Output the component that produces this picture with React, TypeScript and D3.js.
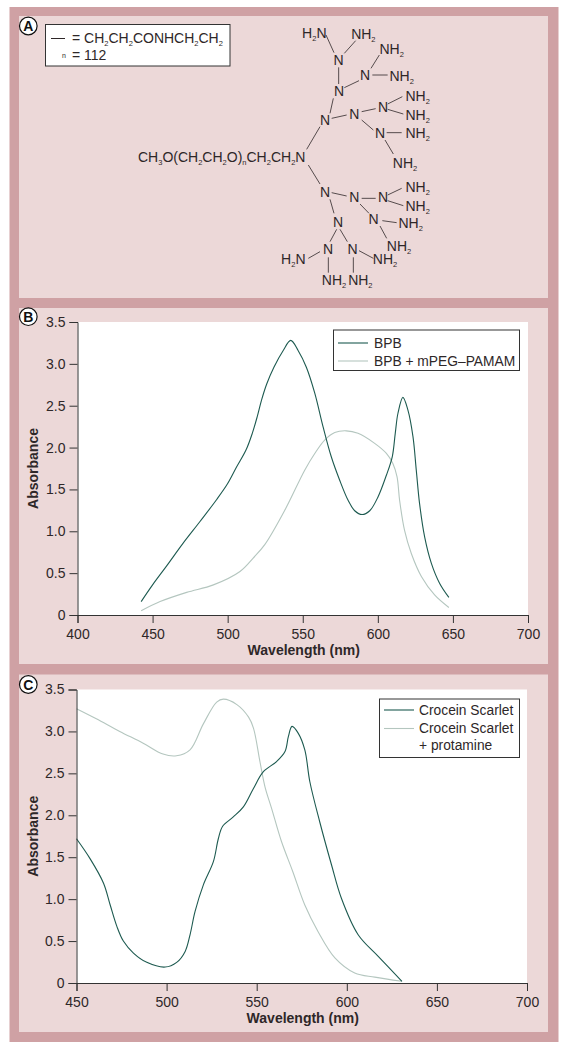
import { useEffect, useRef } from "react";
import * as d3 from "d3";

const FONT = "'Liberation Sans', Arial, sans-serif";
const INK = "#2e2728";
const DARK_LINE = "#1d5a50";
const LIGHT_LINE = "#b4c6bf";

// panel B
const bpbWavelength = [442.4, 450, 459.5, 470, 481.7, 492.7, 500, 506, 512.2, 516.4, 519.7, 522.6, 526, 530.8, 537, 542, 546.9, 552.4, 558, 563.5, 569, 574.6, 580.2, 584.6, 589.5, 594.6, 600.1, 605.7, 609.6, 611.6, 613.4, 616.7, 620, 623.4, 625.6, 627.8, 631.2, 635.6, 641.1, 647.3];
const bpbAbsorbance = [0.16, 0.36, 0.59, 0.85, 1.12, 1.38, 1.57, 1.77, 1.97, 2.17, 2.37, 2.57, 2.76, 2.96, 3.16, 3.28, 3.16, 2.96, 2.65, 2.25, 1.89, 1.61, 1.37, 1.245, 1.2, 1.245, 1.41, 1.67, 1.89, 2.17, 2.41, 2.6, 2.45, 2.13, 1.73, 1.33, 0.93, 0.62, 0.38, 0.21];
const mpegWavelength = [442.4, 455, 472.7, 490.5, 508.2, 517, 524.7, 538, 551.3, 558, 564.6, 571.3, 579, 586.8, 597.9, 605.7, 610, 612.8, 614.5, 617.8, 622.3, 629, 637.8, 647.3];
const mpegAbsorbance = [0.05, 0.16, 0.27, 0.36, 0.52, 0.68, 0.84, 1.25, 1.73, 1.93, 2.09, 2.18, 2.2, 2.17, 2.05, 1.93, 1.81, 1.65, 1.37, 1.01, 0.735, 0.46, 0.24, 0.09];

// panel C
const croceinWavelength = [450, 457.6, 465, 468.7, 472.4, 476, 481.6, 489, 499.2, 505.6, 510.3, 513, 515.8, 520.4, 526, 528.7, 531.1, 537, 542.6, 548.2, 553.7, 561, 565.7, 567.6, 569.6, 573, 576.7, 579.5, 585, 591.5, 597, 606.3, 617.3, 630.6];
const croceinAbsorbance = [1.72, 1.48, 1.19, 0.93, 0.675, 0.5, 0.357, 0.246, 0.19, 0.246, 0.377, 0.575, 0.853, 1.17, 1.45, 1.72, 1.87, 1.98, 2.1, 2.32, 2.52, 2.64, 2.76, 2.94, 3.06, 2.98, 2.78, 2.4, 1.92, 1.41, 1.01, 0.575, 0.32, 0.02];
const protamineWavelength = [450, 461, 474, 487, 498, 505.5, 513, 520.4, 527.8, 531.5, 539, 545.5, 548.2, 551.8, 554.6, 558.3, 563.7, 570, 576.7, 584, 593.4, 604.4, 615.5, 630.6];
const protamineAbsorbance = [3.27, 3.15, 3.0, 2.86, 2.73, 2.71, 2.78, 3.09, 3.35, 3.385, 3.32, 3.17, 3.04, 2.64, 2.34, 2.08, 1.69, 1.33, 0.93, 0.615, 0.3, 0.12, 0.07, 0.02];

const absorbanceTicks = [0, 0.5, 1, 1.5, 2, 2.5, 3, 3.5];
const ticksB = [400, 450, 500, 550, 600, 650, 700];
const ticksC = [450, 500, 550, 600, 650, 700];

// panel A: dendrimer drawing, in units of a 900x900 drawing grid
const atomLabels: [string, number, number][] = [
  ["H_2N", 148, 68], ["NH_2", 295, 73], ["N", 221, 150], ["NH_2", 380, 118], ["N", 300, 195],
  ["NH_2", 410, 198], ["N", 222, 243], ["NH_2", 458, 258], ["N", 354, 292], ["NH_2", 458, 314],
  ["N", 268, 311], ["N", 180, 330], ["N", 345, 368], ["NH_2", 458, 370], ["NH_2", 420, 458],
  ["N", 180, 545], ["N", 268, 562], ["N", 354, 562], ["NH_2", 458, 532], ["NH_2", 458, 587],
  ["N", 326, 627], ["NH_2", 437, 640], ["NH_2", 402, 707], ["N", 219, 636], ["N", 189, 718],
  ["N", 263, 718], ["H_2N", 85, 748], ["NH_2", 360, 748], ["NH_2", 207, 810], ["NH_2", 286, 810],
];
const bonds: [number, number, number, number][] = [
  [183, 75, 207, 128], [272, 92, 238, 130], [221, 172, 221, 222], [238, 233, 282, 212],
  [343, 135, 318, 175], [322, 195, 368, 195], [205, 265, 195, 310], [165, 350, 125, 418],
  [200, 325, 245, 315], [290, 305, 332, 296], [368, 282, 412, 260], [368, 298, 415, 312],
  [290, 330, 325, 360], [365, 368, 410, 368], [360, 390, 385, 432], [130, 465, 165, 522],
  [200, 548, 245, 558], [290, 565, 332, 565], [368, 555, 410, 535], [368, 572, 415, 587],
  [285, 582, 312, 610], [352, 632, 395, 638], [345, 648, 365, 685], [195, 568, 207, 610],
  [215, 658, 195, 695], [225, 658, 247, 695], [165, 725, 130, 745], [190, 742, 190, 788],
  [265, 742, 265, 788], [282, 722, 325, 745],
];

// "CH_2" -> CH with a subscript 2
function Chem({ label, ...rest }: any) {
  const parts = label.split(/_(.)/);
  return (
    <text fontFamily={FONT} fontSize={14} fill={INK} {...rest}>
      {parts.map((p: string, i: number) =>
        i % 2 === 1 ? (
          <tspan key={i} fontSize={7.5} dy={3}>{p}</tspan>
        ) : (
          <tspan key={i} dy={i > 0 ? -3 : 0}>{p}</tspan>
        )
      )}
    </text>
  );
}

function Badge({ y, letter }: { y: number; letter: string }) {
  return (
    <g>
      <circle cx={28.3} cy={y} r={8.8} fill="#fff" stroke="#111" strokeWidth={1.2} />
      <text x={28.3} y={y + 5} textAnchor="middle" fontFamily={FONT} fontWeight="bold" fontSize={14} fill="#111">{letter}</text>
    </g>
  );
}

interface SpectrumProps {
  left: number;
  right: number;
  top: number;
  bottom: number;
  xDomain: [number, number];
  xTicks: number[];
  dark: [number[], number[]];
  light: [number[], number[]];
  titleY: number;
}

function Spectrum({ left, right, top, bottom, xDomain, xTicks, dark, light, titleY }: SpectrumProps) {
  const ref = useRef<SVGGElement>(null);

  useEffect(() => {
    if (!ref.current) return;
    const g = d3.select(ref.current);
    g.selectAll("*").remove();

    const x = d3.scaleLinear().domain(xDomain).range([left, right]);
    const y = d3.scaleLinear().domain([0, 3.5]).range([bottom, top]);

    g.append("rect")
      .attr("x", left)
      .attr("y", top)
      .attr("width", right - left)
      .attr("height", bottom - top)
      .attr("fill", "#fff");

    const line = d3
      .line<number>()
      .x((d) => x(d))
      .curve(d3.curveCatmullRom.alpha(0.5));

    const series: [[number[], number[]], string][] = [
      [light, LIGHT_LINE],
      [dark, DARK_LINE],
    ];
    series.forEach(([[wl, abs], color]) => {
      line.y((_, i) => y(abs[i]));
      g.append("path")
        .attr("d", line(wl))
        .attr("fill", "none")
        .attr("stroke", color)
        .attr("stroke-width", 1.1);
    });

    const xAxis = g
      .append("g")
      .attr("transform", `translate(0,${bottom})`)
      .call(d3.axisBottom(x).tickValues(xTicks).tickSize(8).tickPadding(6).tickFormat(d3.format("d") as any));
    const yAxis = g
      .append("g")
      .attr("transform", `translate(${left},0)`)
      .call(
        d3
          .axisLeft(y)
          .tickValues(absorbanceTicks)
          .tickSize(8)
          .tickPadding(4)
          .tickFormat((d: any) => (d === 0 ? "0" : d3.format(".1f")(d)))
      );

    [xAxis, yAxis].forEach((axis) => {
      axis.selectAll("path,line").attr("stroke", "#333").attr("stroke-width", 1);
      axis.selectAll("text").attr("fill", INK).attr("font-size", 14).attr("font-family", FONT);
    });

    g.append("text")
      .attr("x", (left + right) / 2 + 1)
      .attr("y", titleY)
      .attr("text-anchor", "middle")
      .attr("font-family", FONT)
      .attr("font-weight", "bold")
      .attr("font-size", 14)
      .attr("fill", INK)
      .text("Wavelength (nm)");

    g.append("text")
      .attr("transform", `translate(37.5,${(top + bottom) / 2}) rotate(-90)`)
      .attr("text-anchor", "middle")
      .attr("font-family", FONT)
      .attr("font-weight", "bold")
      .attr("font-size", 14)
      .attr("fill", INK)
      .text("Absorbance");
  }, []);

  return <g ref={ref} />;
}

function LegendLine({ x, y, color }: { x: number; y: number; color: string }) {
  return <line x1={x} x2={x + 30} y1={y} y2={y} stroke={color} strokeWidth={1.1} />;
}

export default function App() {
  const gx = d3.scaleLinear().domain([0, 900]).range([265, 565]);
  const gy = d3.scaleLinear().domain([0, 900]).range([10, 310]);
  const legendText = { fontFamily: FONT, fontSize: 13.8, fill: INK };

  return (
    <svg width={565} height={1047} style={{ position: "absolute", left: 0, top: 0, display: "block" }}>
      <rect width={565} height={1047} fill="#fff" />
      <rect x={9.5} y={7} width={549} height={1035} fill="#cfa1a4" />
      <rect x={19} y={16} width={529} height={282} fill="#ecd8d8" />
      <rect x={19} y={308} width={529} height={356} fill="#ecd8d8" />
      <rect x={19} y={674.5} width={529} height={357.5} fill="#ecd8d8" />

      {/* panel A */}
      <Badge y={26} letter="A" />
      <rect x={45.5} y={24.5} width={184.5} height={41.5} fill="#fff" stroke="#333" strokeWidth={1} />
      <line x1={51} x2={65} y1={38.5} y2={38.5} stroke={INK} />
      <Chem label="= CH_2CH_2CONHCH_2CH_2" x={72} y={43} />
      <text x={62} y={58} fontFamily={FONT} fontSize={7} fill={INK}>n</text>
      <text x={72} y={60} fontFamily={FONT} fontSize={14} fill={INK}>= 112</text>
      <Chem label="CH_3O(CH_2CH_2O)_nCH_2CH_2N" x={138} y={161.5} />
      {bonds.map(([x1, y1, x2, y2], i) => (
        <line key={i} x1={gx(x1)} y1={gy(y1)} x2={gx(x2)} y2={gy(y2)} stroke={INK} strokeWidth={0.8} />
      ))}
      {atomLabels.map(([label, x, y], i) => (
        <Chem key={i} label={label} x={gx(x)} y={gy(y) + 5} textAnchor="middle" />
      ))}

      {/* panel B */}
      <Badge y={316.7} letter="B" />
      <Spectrum
        left={77.5}
        right={528}
        top={322}
        bottom={615}
        xDomain={[400, 700]}
        xTicks={ticksB}
        dark={[bpbWavelength, bpbAbsorbance]}
        light={[mpegWavelength, mpegAbsorbance]}
        titleY={655}
      />
      <rect x={333.5} y={330} width={186} height={40.5} fill="#fff" stroke="#333" />
      <LegendLine x={338} y={343} color={DARK_LINE} />
      <LegendLine x={338} y={361} color={LIGHT_LINE} />
      <text x={374} y={348} {...legendText}>BPB</text>
      <text x={374} y={366} {...legendText}>BPB + mPEG–PAMAM</text>

      {/* panel C */}
      <Badge y={684.5} letter="C" />
      <Spectrum
        left={76.5}
        right={527}
        top={689.5}
        bottom={983}
        xDomain={[450, 700]}
        xTicks={ticksC}
        dark={[croceinWavelength, croceinAbsorbance]}
        light={[protamineWavelength, protamineAbsorbance]}
        titleY={1023}
      />
      <rect x={379.5} y={699} width={140} height={58.5} fill="#fff" stroke="#333" />
      <LegendLine x={384} y={710} color={DARK_LINE} />
      <LegendLine x={384} y={728.5} color={LIGHT_LINE} />
      <text x={419} y={715} {...legendText}>Crocein Scarlet</text>
      <text x={419} y={733} {...legendText}>Crocein Scarlet</text>
      <text x={419} y={750} {...legendText}>+ protamine</text>
    </svg>
  );
}
